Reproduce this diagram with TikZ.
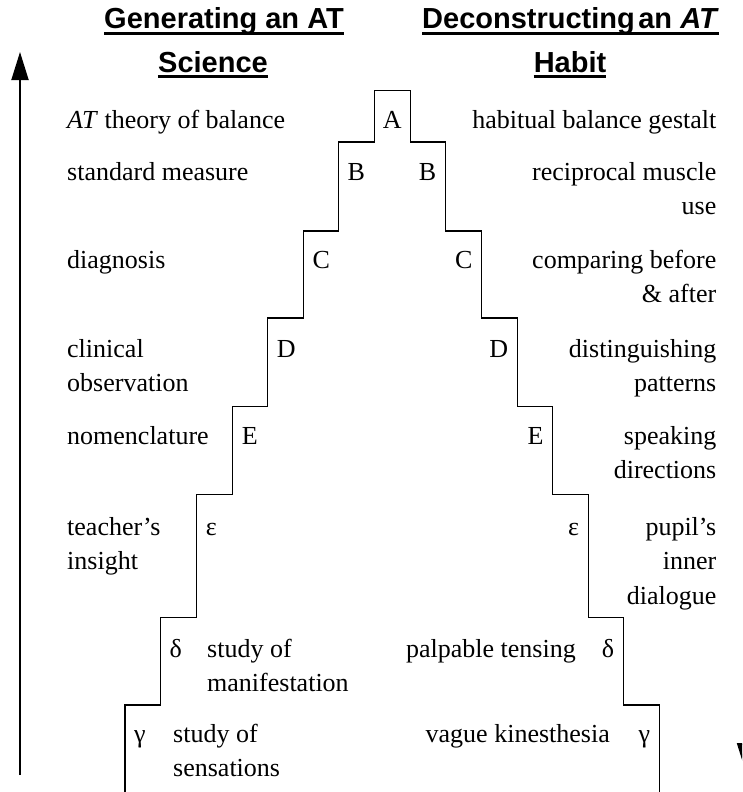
\documentclass[tikz,border=0pt]{standalone}
\usepackage{fontspec}
\setmainfont{Liberation Serif}
\newfontfamily\headfont{Liberation Sans}
\usetikzlibrary{arrows.meta}

% first line of a wrapped label sits on the node's baseline
\newcommand{\leftlines}[1]{\begin{tabular}[t]{@{}l@{}}#1\end{tabular}}
\newcommand{\rightlines}[1]{\begin{tabular}[t]{@{}r@{}}#1\end{tabular}}

\tikzset{
  rowtext/.style={font=\fontsize{26}{34.5}\selectfont, inner sep=0pt},
  steplabel/.style={font=\fontsize{26}{34.5}\selectfont, inner ysep=0pt, inner xsep=9pt},
  heading/.style={font=\headfont\bfseries\fontsize{29}{34}\selectfont, inner sep=0pt, anchor=base},
  uline/.style={line width=2.4pt},
  stairline/.style={line width=1.2pt},
  bigarrow/.style={line width=1.8pt, -{Triangle[length=28pt,width=17pt]}},
}

\begin{document}
\begin{tikzpicture}[x=1pt,y=-1pt]
  \useasboundingbox (0,0) rectangle (742,792);
  \clip (0,0) rectangle (742,792);

  % headings
  \node[heading] (gen1) at (224,29) {Generating an AT\hspace{0.28em}};
  \node[heading] (gen2) at (213,72) {Science};
  \node[heading] (dec1) at (570.5,29) {Deconstructing\hspace{0.12em}an \textit{AT}};
  \node[heading] (dec2) at (570,72) {Habit};
  \foreach \h in {gen1,gen2,dec1,dec2}{
    \draw[uline] ([yshift=-4.5pt]\h.base west) -- ([yshift=-4.5pt]\h.base east);
  }

  % arrows at the sides
  \coordinate (upstart) at (20,775);
  \coordinate (uptip) at (20,52);
  \draw[bigarrow] (upstart) -- (uptip);
  \coordinate (downstart) at (745.5,690);
  \coordinate (downtip) at (745.5,771);
  \draw[bigarrow] (downstart) -- (downtip);

  % the staircase
  \draw[stairline] (125,800) -- (125,705) -- (160.3,705) -- (160.3,617.3)
    -- (196.7,617.3) -- (196.7,494.3) -- (232.7,494.3) -- (232.7,406.5)
    -- (267.7,406.5) -- (267.7,318) -- (303.3,318) -- (303.3,231)
    -- (338.3,231) -- (338.3,142) -- (374.3,142) -- (374.3,90.7)
    -- (410.3,90.7) -- (410.3,142) -- (445.3,142) -- (445.3,231)
    -- (481.7,231) -- (481.7,318) -- (517.3,318) -- (517.3,406.5)
    -- (552.7,406.5) -- (552.7,494.3) -- (588.3,494.3) -- (588.3,617.3)
    -- (623.3,617.3) -- (623.3,705) -- (659.3,705) -- (659.3,800);

  % step letters
  \node[steplabel,anchor=base] (la) at (392.3,128) {A};
  \node[steplabel,anchor=base west] (lb) at (338.3,180) {B};
  \node[steplabel,anchor=base east] (rb) at (445.3,180) {B};
  \node[steplabel,anchor=base west] (lc) at (303.3,268) {C};
  \node[steplabel,anchor=base east] (rc) at (481.7,268) {C};
  \node[steplabel,anchor=base west] (ld) at (267.7,357) {D};
  \node[steplabel,anchor=base east] (rd) at (517.3,357) {D};
  \node[steplabel,anchor=base west] (le) at (232.7,444) {E};
  \node[steplabel,anchor=base east] (re) at (552.7,444) {E};
  \node[steplabel,anchor=base west] (leps) at (196.7,535) {ε};
  \node[steplabel,anchor=base east] (reps) at (588.3,535) {ε};
  \node[steplabel,anchor=base west] (ldel) at (160.3,657) {δ};
  \node[steplabel,anchor=base east] (rdel) at (623.3,657) {δ};
  \node[steplabel,anchor=base west] (lgam) at (125,742) {γ};
  \node[steplabel,anchor=base east] (rgam) at (659.3,742) {γ};

  % science side
  \node[rowtext,anchor=base west] (sa) at (67,128) {\textit{AT} theory of balance};
  \node[rowtext,anchor=base west] (sb) at (67,180) {standard measure};
  \node[rowtext,anchor=base west] (sc) at (67,268) {diagnosis};
  \node[rowtext,anchor=base west] (sd) at (67,357) {\leftlines{clinical\\observation}};
  \node[rowtext,anchor=base west] (se) at (67,444) {nomenclature};
  \node[rowtext,anchor=base west] (seps) at (67,535) {\leftlines{teacher's\\insight}};
  \node[rowtext,anchor=base west] (sdel) at (207,657) {\leftlines{study of\\manifestation}};
  \node[rowtext,anchor=base west] (sgam) at (173,742) {\leftlines{study of\\sensations}};

  % habit side
  \node[rowtext,anchor=base east] (ha) at (716.5,128) {habitual balance gestalt};
  \node[rowtext,anchor=base east] (hb) at (716.5,180) {\rightlines{reciprocal muscle\\use}};
  \node[rowtext,anchor=base east] (hc) at (716.5,268) {\rightlines{comparing before\\\& after}};
  \node[rowtext,anchor=base east] (hd) at (716.5,357) {\rightlines{distinguishing\\patterns}};
  \node[rowtext,anchor=base east] (he) at (716.5,444) {\rightlines{speaking\\directions}};
  \node[rowtext,anchor=base east] (heps) at (716.5,535) {\rightlines{pupil's\\inner\\dialogue}};
  \node[rowtext,anchor=base east] (hdel) at (576,657) {palpable tensing};
  \node[rowtext,anchor=base east] (hgam) at (610,742) {vague kinesthesia};
\end{tikzpicture}
\end{document}
